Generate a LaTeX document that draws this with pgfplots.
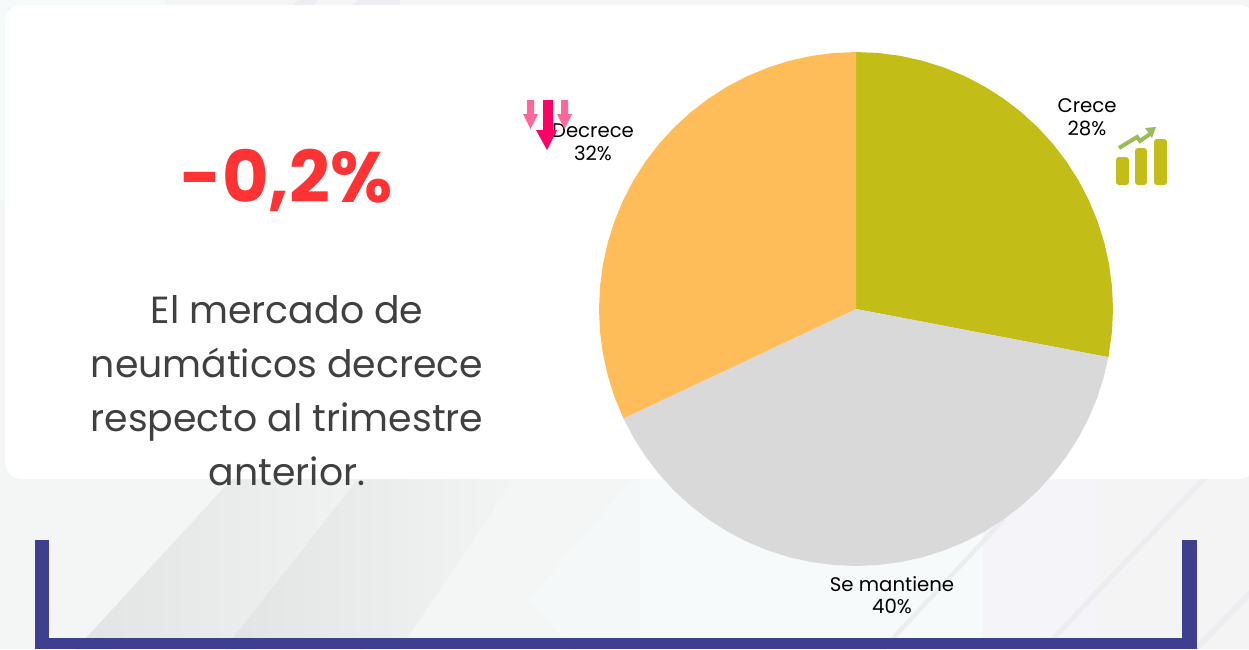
\documentclass[border=0pt]{standalone}
\usepackage{fontspec}
\setmainfont{Poppins}
\usepackage{pgfplots}
\pgfplotsset{compat=1.18}
\usepgfplotslibrary{polar}
\definecolor{cCrece}{HTML}{C3BD17}
\definecolor{cMant}{HTML}{D9D9D9}
\definecolor{cDecr}{HTML}{FFBD59}
\definecolor{cBlue}{HTML}{3F3F8F}
\definecolor{cRed}{HTML}{FF3333}
\definecolor{cBody}{HTML}{404040}
\definecolor{cBg}{HTML}{F4F5F5}
\definecolor{cTeal}{HTML}{F6FAFA}
\definecolor{cLav}{HTML}{F5F5F9}
\definecolor{cGrayR}{HTML}{F4F4F4}
\definecolor{cBandA}{HTML}{E2E3E3}
\definecolor{cBandB}{HTML}{F3F5F5}
\definecolor{cStripe}{HTML}{ECEDF0}
\definecolor{cPink}{HTML}{FF0066}
\definecolor{cPinkL}{HTML}{FF6699}
\definecolor{cGreen}{HTML}{9BBB59}
\begin{document}
\begin{tikzpicture}[x=1pt,y=-1pt]
\useasboundingbox (0,0) rectangle (1249,649);
\clip (0,0) rectangle (1249,649);
% background
\fill[cBg] (0,0) rectangle (1249,649);
\fill[cTeal] (0,0) rectangle (165,8);
\fill[cTeal] (0,0) rectangle (8,200);
\fill[cTeal] (640,470) rectangle (983,649);
\fill[cLav] (983,470) rectangle (1095,649);
\fill[cGrayR] (1095,470) rectangle (1249,649);
\fill[cStripe] (290,8) -- (298,0) -- (318,0) -- (310,8) -- cycle;
\fill[cStripe] (350,8) -- (358,0) -- (400,0) -- (400,8) -- cycle;
\shade[left color=cBandA,right color=cBandB] (76,649) -- (86,638) -- (240,470) -- (400,470) -- (233,649) -- cycle;
\shade[left color=cBandA,right color=cBandB] (225,649) -- (233,638) -- (365,470) -- (520,470) -- (400,649) -- cycle;
\fill[cTeal!60!cBg] (528,600) -- (640,470) -- (640,649) -- (572,649) -- cycle;
\fill[cStripe] (880,649) -- (1000,520) -- (1006,520) -- (886,649) -- cycle;
\fill[cStripe] (1040,649) -- (1200,479) -- (1207,479) -- (1047,649) -- cycle;
\fill[cStripe] (1192,649) -- (1249,590) -- (1249,598) -- (1200,649) -- cycle;
% card
\fill[white,rounded corners=17pt] (5,5) rectangle (1256,479);
% frame
\fill[cBlue] (35,540) rectangle (49,649);
\fill[cBlue] (1182,540) rectangle (1197,649);
\fill[cBlue] (35,638) rectangle (1197,649);
% pie
\begin{polaraxis}[
  at={(856pt,-309pt)},anchor=center,
  width=514pt,height=514pt,scale only axis,
  hide axis,clip=false,
  xmin=0,xmax=360,ymin=0,ymax=1]
\addplot[fill=cCrece,draw=none] coordinates {(0,0)(90,1)(85,1)(80,1)(75,1)(70,1)(65,1)(60,1)(55,1)(50,1)(45,1)(40,1)(35,1)(30,1)(25,1)(20,1)(15,1)(10,1)(5,1)(0,1)(355,1)(349.2,1)} -- cycle;
\addplot[fill=cMant,draw=none] coordinates {(0,0)(349.2,1)(345,1)(340,1)(335,1)(330,1)(325,1)(320,1)(315,1)(310,1)(305,1)(300,1)(295,1)(290,1)(285,1)(280,1)(275,1)(270,1)(265,1)(260,1)(255,1)(250,1)(245,1)(240,1)(235,1)(230,1)(225,1)(220,1)(215,1)(210,1)(205.2,1)} -- cycle;
\addplot[fill=cDecr,draw=none] coordinates {(0,0)(205.2,1)(200,1)(195,1)(190,1)(185,1)(180,1)(175,1)(170,1)(165,1)(160,1)(155,1)(150,1)(145,1)(140,1)(135,1)(130,1)(125,1)(120,1)(115,1)(110,1)(105,1)(100,1)(95,1)(90,1)} -- cycle;
\end{polaraxis}
% texts
\node[anchor=base,text=cRed,font=\fontsize{71.5}{71.5}\selectfont\bfseries,inner sep=0pt] at (286.5,202) {-0,2\%};
\foreach \y/\t in {323/El mercado de,377/neumáticos decrece,431/respecto al trimestre,485/anterior.}
  \node[anchor=base,text=cBody,font=\fontsize{37.8}{37.8}\selectfont,inner sep=0pt] at (287,\y) {\t};
\foreach \x/\y/\t in {1087/112/Crece,1087/135/28\%,593/137/Decrece,593/160/32\%,892/591/Se mantiene,892/613/40\%}
  \node[anchor=base,text=black,font=\fontsize{19.7}{19.7}\selectfont,inner sep=0pt] at (\x,\y) {\t};
% icons
\fill[cPinkL] (527,100) -- (534,100) -- (534,114) -- (538,114) -- (530.5,129) -- (523,114) -- (527,114) -- cycle;
\fill[cPinkL] (561,100) -- (568,100) -- (568,114) -- (572,114) -- (564.5,129) -- (557,114) -- (561,114) -- cycle;
\fill[cPink] (543,100) -- (553,100) -- (553,130) -- (557,130) -- (547,150) -- (536,130) -- (543,130) -- cycle;
\fill[cCrece,rounded corners=3pt] (1116,157) rectangle (1129,185);
\fill[cCrece,rounded corners=3pt] (1135,148) rectangle (1147,185);
\fill[cCrece,rounded corners=3pt] (1154,139) rectangle (1167,185);
\draw[cGreen,line width=4pt] (1119,148) -- (1137,137) -- (1140,141) -- (1150,134);
\fill[cGreen] (1145,128) -- (1156,127) -- (1152,138) -- cycle;
\end{tikzpicture}
\end{document}
